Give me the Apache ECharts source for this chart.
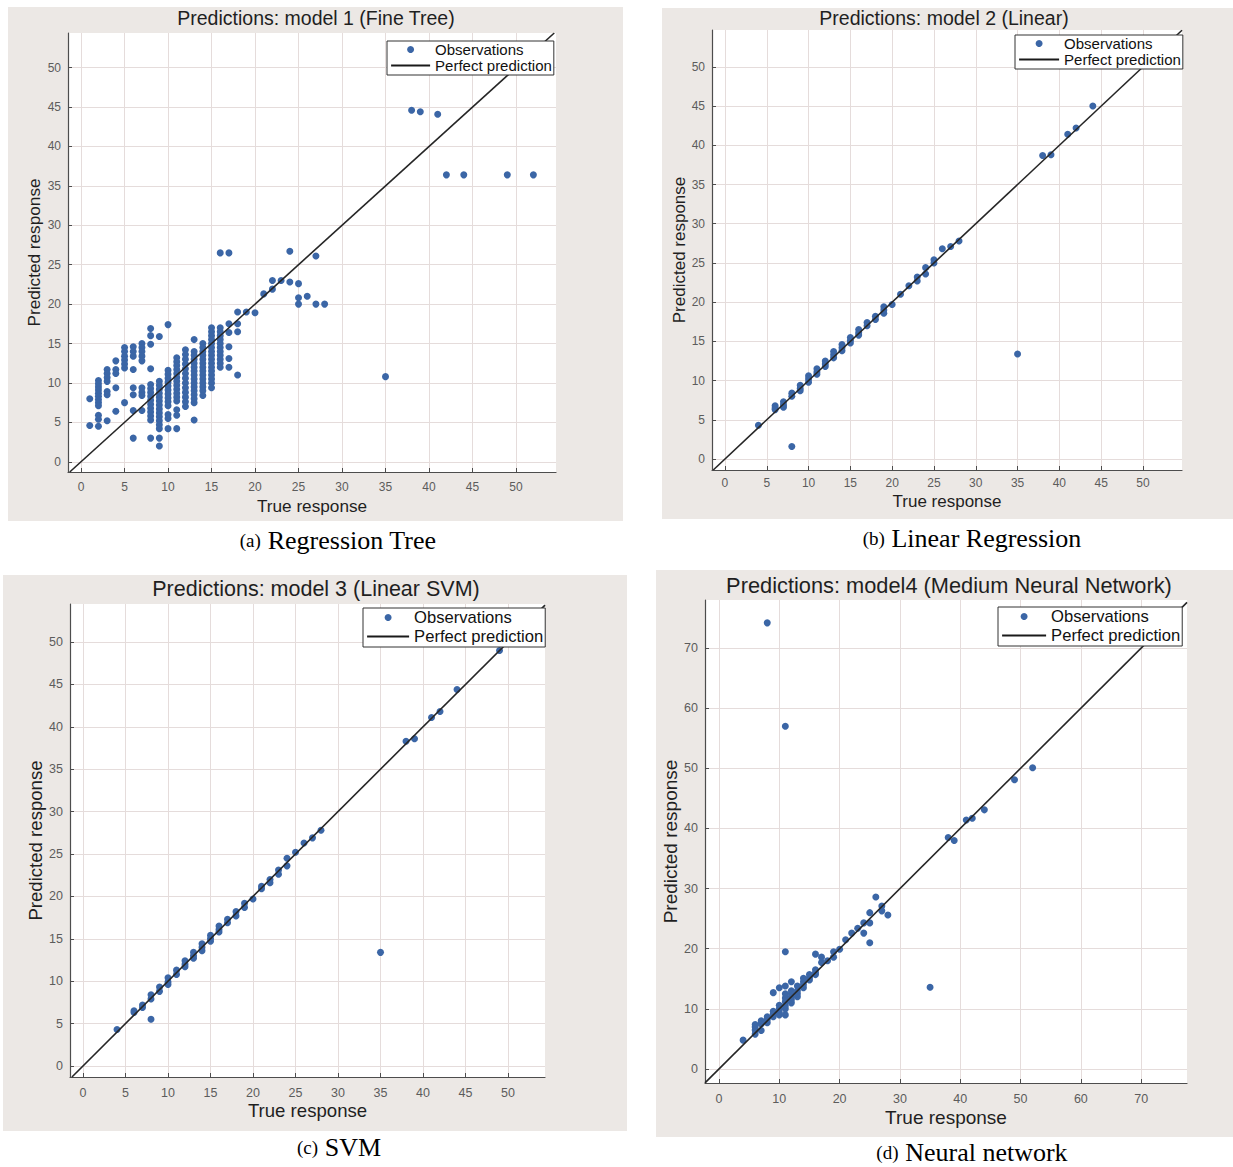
<!DOCTYPE html>
<html>
<head>
<meta charset="utf-8">
<script src="https://cdn.jsdelivr.net/npm/echarts@6/dist/echarts.min.js"></script>
<style>
html,body{margin:0;padding:0;background:#ffffff;}
#main{width:1233px;height:1167px;}
</style>
</head>
<body>
<div id="main"></div>
<script>
// ---------- tick labels ----------
const ticks50 = [0, 5, 10, 15, 20, 25, 30, 35, 40, 45, 50];
const ticks70 = [0, 10, 20, 30, 40, 50, 60, 70];

// ---------- text ----------
const titles = [
  'Predictions: model 1 (Fine Tree)',
  'Predictions: model 2 (Linear)',
  'Predictions: model 3 (Linear SVM)',
  'Predictions: model4 (Medium Neural Network)'
];
const captionTags = ['(a)', '(b)', '(c)', '(d)'];
const captionNames = ['Regression Tree', 'Linear Regression', 'SVM', 'Neural network'];
const seriesNames = ['Observations', 'Perfect prediction'];

// ---------- model 1: Fine Tree ----------
const treeTrue = [
  1,1,
  2,2,2,2,2,2,2,2,2,2,2,2,
  3,3,3,3,3,3,3,
  4,4,4,4,4,
  5,5,5,5,5,5,5,
  6,6,6,6,6,6,6,6,
  7,7,7,7,7,7,7,7,7,
  8,8,8,8,8,8,8,8,8,8,8,8,8,8,8,
  9,9,9,9,9,9,9,9,9,9,9,9,9,9,9,9,
  10,10,10,10,10,10,10,10,10,10,10,10,10,10,
  11,11,11,11,11,11,11,11,11,11,11,11,11,11,11,
  12,12,12,12,12,12,12,12,12,12,12,12,12,
  13,13,13,13,13,13,13,13,13,13,13,13,13,13,13,13,
  14,14,14,14,14,14,14,14,14,14,14,14,14,14,
  15,15,15,15,15,15,15,15,15,15,15,15,15,15,15,15,
  16,16,16,16,16,16,16,16,16,16,16,16,
  17,17,17,17,17,17,
  18,18,18,18,
  19,20,21,22,22,23,24,24,25,25,25,26,27,27,28,
  35,38,39,41,42,44,49,52
];
const treePred = [
  8.0,4.6,
  10.3,9.9,9.5,9.1,8.7,8.3,7.9,7.5,7.1,5.9,5.4,4.5,
  11.7,11.2,10.7,10.2,8.9,8.5,5.2,
  12.8,11.7,11.2,9.4,6.4,
  14.5,14.0,13.4,12.9,12.4,11.9,7.5,
  14.6,14.0,13.4,11.7,9.4,8.5,6.5,3.0,
  15.0,14.5,14.0,13.4,12.8,9.4,8.8,8.4,6.5,
  16.9,16.0,14.9,11.8,9.8,9.3,8.8,8.3,7.8,7.3,6.8,6.3,5.8,5.3,3.0,
  15.9,10.2,9.7,9.2,8.7,8.2,7.7,7.2,6.7,6.2,5.7,5.2,4.7,4.2,3.0,2.0,
  17.4,11.6,11.1,10.6,10.1,9.6,9.1,8.6,8.1,7.6,7.1,6.0,5.5,4.2,
  13.2,12.7,12.2,11.7,11.2,10.7,10.2,9.7,9.2,8.7,8.2,7.7,6.6,5.9,4.2,
  14.2,13.6,13.0,12.4,11.8,11.2,10.6,10.0,9.4,8.8,8.2,7.6,7.0,
  15.5,14.0,13.5,13.0,12.5,12.0,11.5,11.0,10.5,10.0,9.5,9.0,8.5,8.0,7.5,5.3,
  15.0,14.5,14.0,13.5,13.0,12.5,12.0,11.5,11.0,10.5,10.0,9.5,9.0,8.4,
  17.0,16.5,16.0,15.5,15.0,14.5,14.0,13.5,13.0,12.5,12.0,11.5,11.0,10.5,10.0,9.4,
  26.5,17.0,16.5,16.0,15.5,15.0,14.5,14.0,13.5,13.0,12.5,12.0,
  26.5,17.5,16.4,14.6,13.1,12.0,
  19.0,17.5,16.5,11.0,
  19.0,18.9,21.3,23.0,21.9,23.0,26.7,22.8,22.6,20.8,20.0,21.0,26.1,20.0,20.0,
  10.8,44.6,44.4,44.1,36.4,36.4,36.4,36.4
];

// ---------- model 2: Linear ----------
const linTrue = [4, 6,6,6, 7,7,7, 8,8,8, 9,9,9, 10,10,10, 11,11,11, 12,12,12, 13,13,13,
  14,14,14, 15,15,15, 16,16,16, 17,17, 18,18, 19,19,19, 20, 21, 22, 23,23, 24,24, 25,25,
  26, 27, 28, 35, 38, 39, 41, 42, 44];
const linPred = [4.3, 6.8,6.5,6.3, 7.3,6.9,6.6, 8.4,8.0,1.6, 9.4,9.0,8.7, 10.6,10.2,9.8,
  11.5,11.1,10.8, 12.5,12.1,11.8, 13.7,13.3,12.9, 14.6,14.2,13.8, 15.5,15.1,14.8,
  16.5,16.1,15.8, 17.4,17.0, 18.2,17.8, 19.4,19.0,18.6, 19.7, 21.0, 22.1, 23.2,22.7,
  24.4,23.6, 25.4,25.0, 26.8, 27.1, 27.8, 13.4, 38.7, 38.8, 41.4, 42.2, 45.0];

// ---------- model 3: Linear SVM ----------
const svmTrue = [4, 6,6, 7,7, 8,8,8, 9,9, 10,10,10, 11,11, 12,12,12, 13,13,13, 14,14,14,
  15,15,15, 16,16,16, 17,17, 18,18, 19,19, 20, 21,21, 22,22, 23,23, 24,24, 25, 26, 27, 28,
  35, 38, 39, 41, 42, 44, 49];
const svmPred = [4.3, 6.5,6.3, 7.2,6.9, 8.4,7.9,5.5, 9.3,8.8, 10.4,9.9,9.6, 11.3,10.8,
  12.4,12.0,11.7, 13.4,13.0,12.7, 14.4,14.0,13.6, 15.4,15.0,14.7, 16.5,16.1,15.8,
  17.3,16.9, 18.2,17.7, 19.2,18.7, 19.7, 21.2,20.9, 22.0,21.6, 23.1,22.6, 24.5,23.6,
  25.2, 26.3, 26.9, 27.8, 13.4, 38.3, 38.6, 41.1, 41.8, 44.4, 49.0];

// ---------- model 4: Medium Neural Network ----------
const nnTrue = [4, 6,6,6,6, 7,7,7, 8,8,8,8, 9,9,9,9, 10,10,10,10,10,
  11,11,11,11,11,11,11,11,11, 12,12,12,12,12,12, 13,13,13,13, 14,14,14,14, 15,15,15,
  16,16,16,16, 17,17, 18, 19,19, 20, 21, 22, 23, 24,24, 25,25,25, 26, 27,27, 28,
  35, 38, 39, 41, 42, 44, 49, 52];
const nnPred = [4.8, 5.8,6.5,7.0,7.4, 6.4,7.5,8.0, 7.7,8.2,8.7,74.2, 8.7,9.2,9.6,12.7,
  9.0,9.4,10.0,10.6,13.5, 9.0,10.0,10.5,11.2,11.8,12.5,13.8,19.5,57.0,
  11.0,11.5,12.0,12.5,13.0,14.5, 12.0,12.5,13.0,13.8, 13.5,14.0,14.5,15.1, 14.8,15.2,15.7,
  15.7,16.0,16.5,19.1, 17.7,18.6, 18.0, 18.6,19.5, 19.9, 21.5, 22.6, 23.4, 22.6,24.3,
  21.0,24.3,26.0, 28.6, 26.3,27.1, 25.6, 13.6, 38.5, 38.0, 41.4, 41.7, 43.1, 48.1, 50.1];

// ---------- layout & style (not data) ----------
const SANS = '"Liberation Sans", Arial, Helvetica, sans-serif';
const SERIF = '"Liberation Serif", "Times New Roman", serif';
const BEIGE = '#ece8e5';
const DOT = '#3b66a6';

const panels = [
  { xs: treeTrue, ys: treePred, ticks: ticks50, xr: [-1.5, 54.6], yr: [-1.3, 54.4],
    grid: [68, 33, 488, 439], box: [8, 7, 615, 514],
    title: [316, 18, 19.5], cap: [338, 540],
    xng: 25, yng: 26, xlm: 9, ylm: 7, tfs: 12, nfs: 17.2,
    lg: [387, 41], lfs: 15, liw: 39, lgap: 1 },
  { xs: linTrue, ys: linPred, ticks: ticks50, xr: [-1.55, 54.67], yr: [-1.4, 54.7],
    grid: [712, 30, 470, 440], box: [662, 8, 571, 511],
    title: [944, 18, 19.5], cap: [972, 538],
    xng: 23, yng: 22, xlm: 7, ylm: 7, tfs: 12, nfs: 17,
    lg: [1015, 35], lfs: 15, liw: 40, lgap: 1 },
  { xs: svmTrue, ys: svmPred, ticks: ticks50, xr: [-1.53, 54.35], yr: [-1.3, 54.48],
    grid: [70, 604, 475, 473], box: [3, 575, 624, 556],
    title: [316, 589, 21.5], cap: [339, 1147],
    xng: 24, yng: 25, xlm: 9, ylm: 7, tfs: 12.5, nfs: 18.6,
    lg: [363, 608], lfs: 16.6, liw: 42, lgap: 2 },
  { xs: nnTrue, ys: nnPred, ticks: ticks70, xr: [-2.32, 77.6], yr: [-2.33, 78.0],
    grid: [705, 600, 482, 483], box: [656, 570, 577, 567],
    title: [949, 585, 21.8], cap: [972, 1152],
    xng: 25, yng: 23, xlm: 9, ylm: 7, tfs: 12.5, nfs: 19,
    lg: [998, 607], lfs: 16.6, liw: 44, lgap: 2 }
];

const grids = [], xAxes = [], yAxes = [], series = [], legends = [], graphics = [];

panels.forEach((p, i) => {
  graphics.push({ type: 'rect', z: -100, silent: true,
    shape: { x: p.box[0], y: p.box[1], width: p.box[2], height: p.box[3] },
    style: { fill: BEIGE } });
  graphics.push({ type: 'text', z: 100, silent: true,
    style: { x: p.title[0], y: p.title[1], text: titles[i], align: 'center', verticalAlign: 'middle',
      fontFamily: SANS, fontSize: p.title[2], fill: '#1f1f1f' } });
  graphics.push({ type: 'text', z: 100, silent: true,
    style: { x: p.cap[0], y: p.cap[1], text: '{t|' + captionTags[i] + '}  {n|' + captionNames[i] + '}',
      align: 'center', verticalAlign: 'middle', fill: '#000',
      rich: {
        t: { fontFamily: SERIF, fontSize: 19, lineHeight: 24, fill: '#000' },
        n: { fontFamily: SERIF, fontSize: 26, lineHeight: 24, fill: '#000' }
      } } });

  grids.push({ left: p.grid[0], top: p.grid[1], width: p.grid[2], height: p.grid[3],
    show: true, backgroundColor: '#ffffff', borderWidth: 0, containLabel: false, outerBoundsMode: 'none' });

  const axisCommon = (name, gap, margin, ticks, range) => ({
    gridIndex: i, type: 'value', min: range[0], max: range[1],
    name: name, nameLocation: 'middle', nameGap: gap,
    nameTextStyle: { fontFamily: SANS, fontSize: p.nfs, color: '#1f1f1f' },
    axisLine: { show: true, onZero: false, lineStyle: { color: '#4d4d4d', width: 1.2 } },
    axisTick: { show: true, inside: true, length: 4, customValues: ticks, lineStyle: { color: '#4d4d4d' } },
    axisLabel: { show: true, customValues: ticks, margin: margin, fontFamily: SANS, fontSize: p.tfs, color: '#5c5c5c' },
    splitLine: { show: true, lineStyle: { color: '#e5dcdb', width: 1 } },
    minorTick: { show: false }, minorSplitLine: { show: false }
  });
  xAxes.push(axisCommon('True response', p.xng, p.xlm, p.ticks, p.xr));
  yAxes.push(axisCommon('Predicted response', p.yng, p.ylm, p.ticks, p.yr));

  const lo = Math.max(p.xr[0], p.yr[0]);
  const hi = Math.min(p.xr[1], p.yr[1]);
  series.push({ type: 'scatter', name: seriesNames[0], xAxisIndex: i, yAxisIndex: i,
    data: p.xs.map((x, k) => [x, p.ys[k]]), symbol: 'circle', symbolSize: 7,
    itemStyle: { color: DOT, opacity: 1 }, z: 2, silent: true });
  series.push({ type: 'line', name: seriesNames[1], xAxisIndex: i, yAxisIndex: i,
    data: [[lo, lo], [hi, hi]], symbol: 'none', showSymbol: false,
    itemStyle: { color: '#262626' },
    lineStyle: { color: '#262626', width: 1.6 }, z: 3, silent: true });

  legends.push({ orient: 'vertical', left: p.lg[0], top: p.lg[1],
    data: [
      { name: seriesNames[0] },
      { name: seriesNames[1], itemStyle: { opacity: 0 } }
    ],
    itemWidth: p.liw, itemHeight: 7, itemGap: p.lgap, padding: [1, 2, 2, 3],
    borderColor: '#333', borderWidth: 1, backgroundColor: '#ffffff', borderRadius: 0,
    selectedMode: false,
    lineStyle: { width: 2.2, color: '#1a1a1a', opacity: 1 },
    textStyle: { fontFamily: SANS, fontSize: p.lfs, color: '#111' } });
});

const chart = echarts.init(document.getElementById('main'), null, { renderer: 'svg', width: 1233, height: 1167 });
chart.setOption({
  animation: false,
  backgroundColor: '#ffffff',
  grid: grids, xAxis: xAxes, yAxis: yAxes, series: series, legend: legends,
  graphic: { elements: graphics }
});
</script>
</body>
</html>
